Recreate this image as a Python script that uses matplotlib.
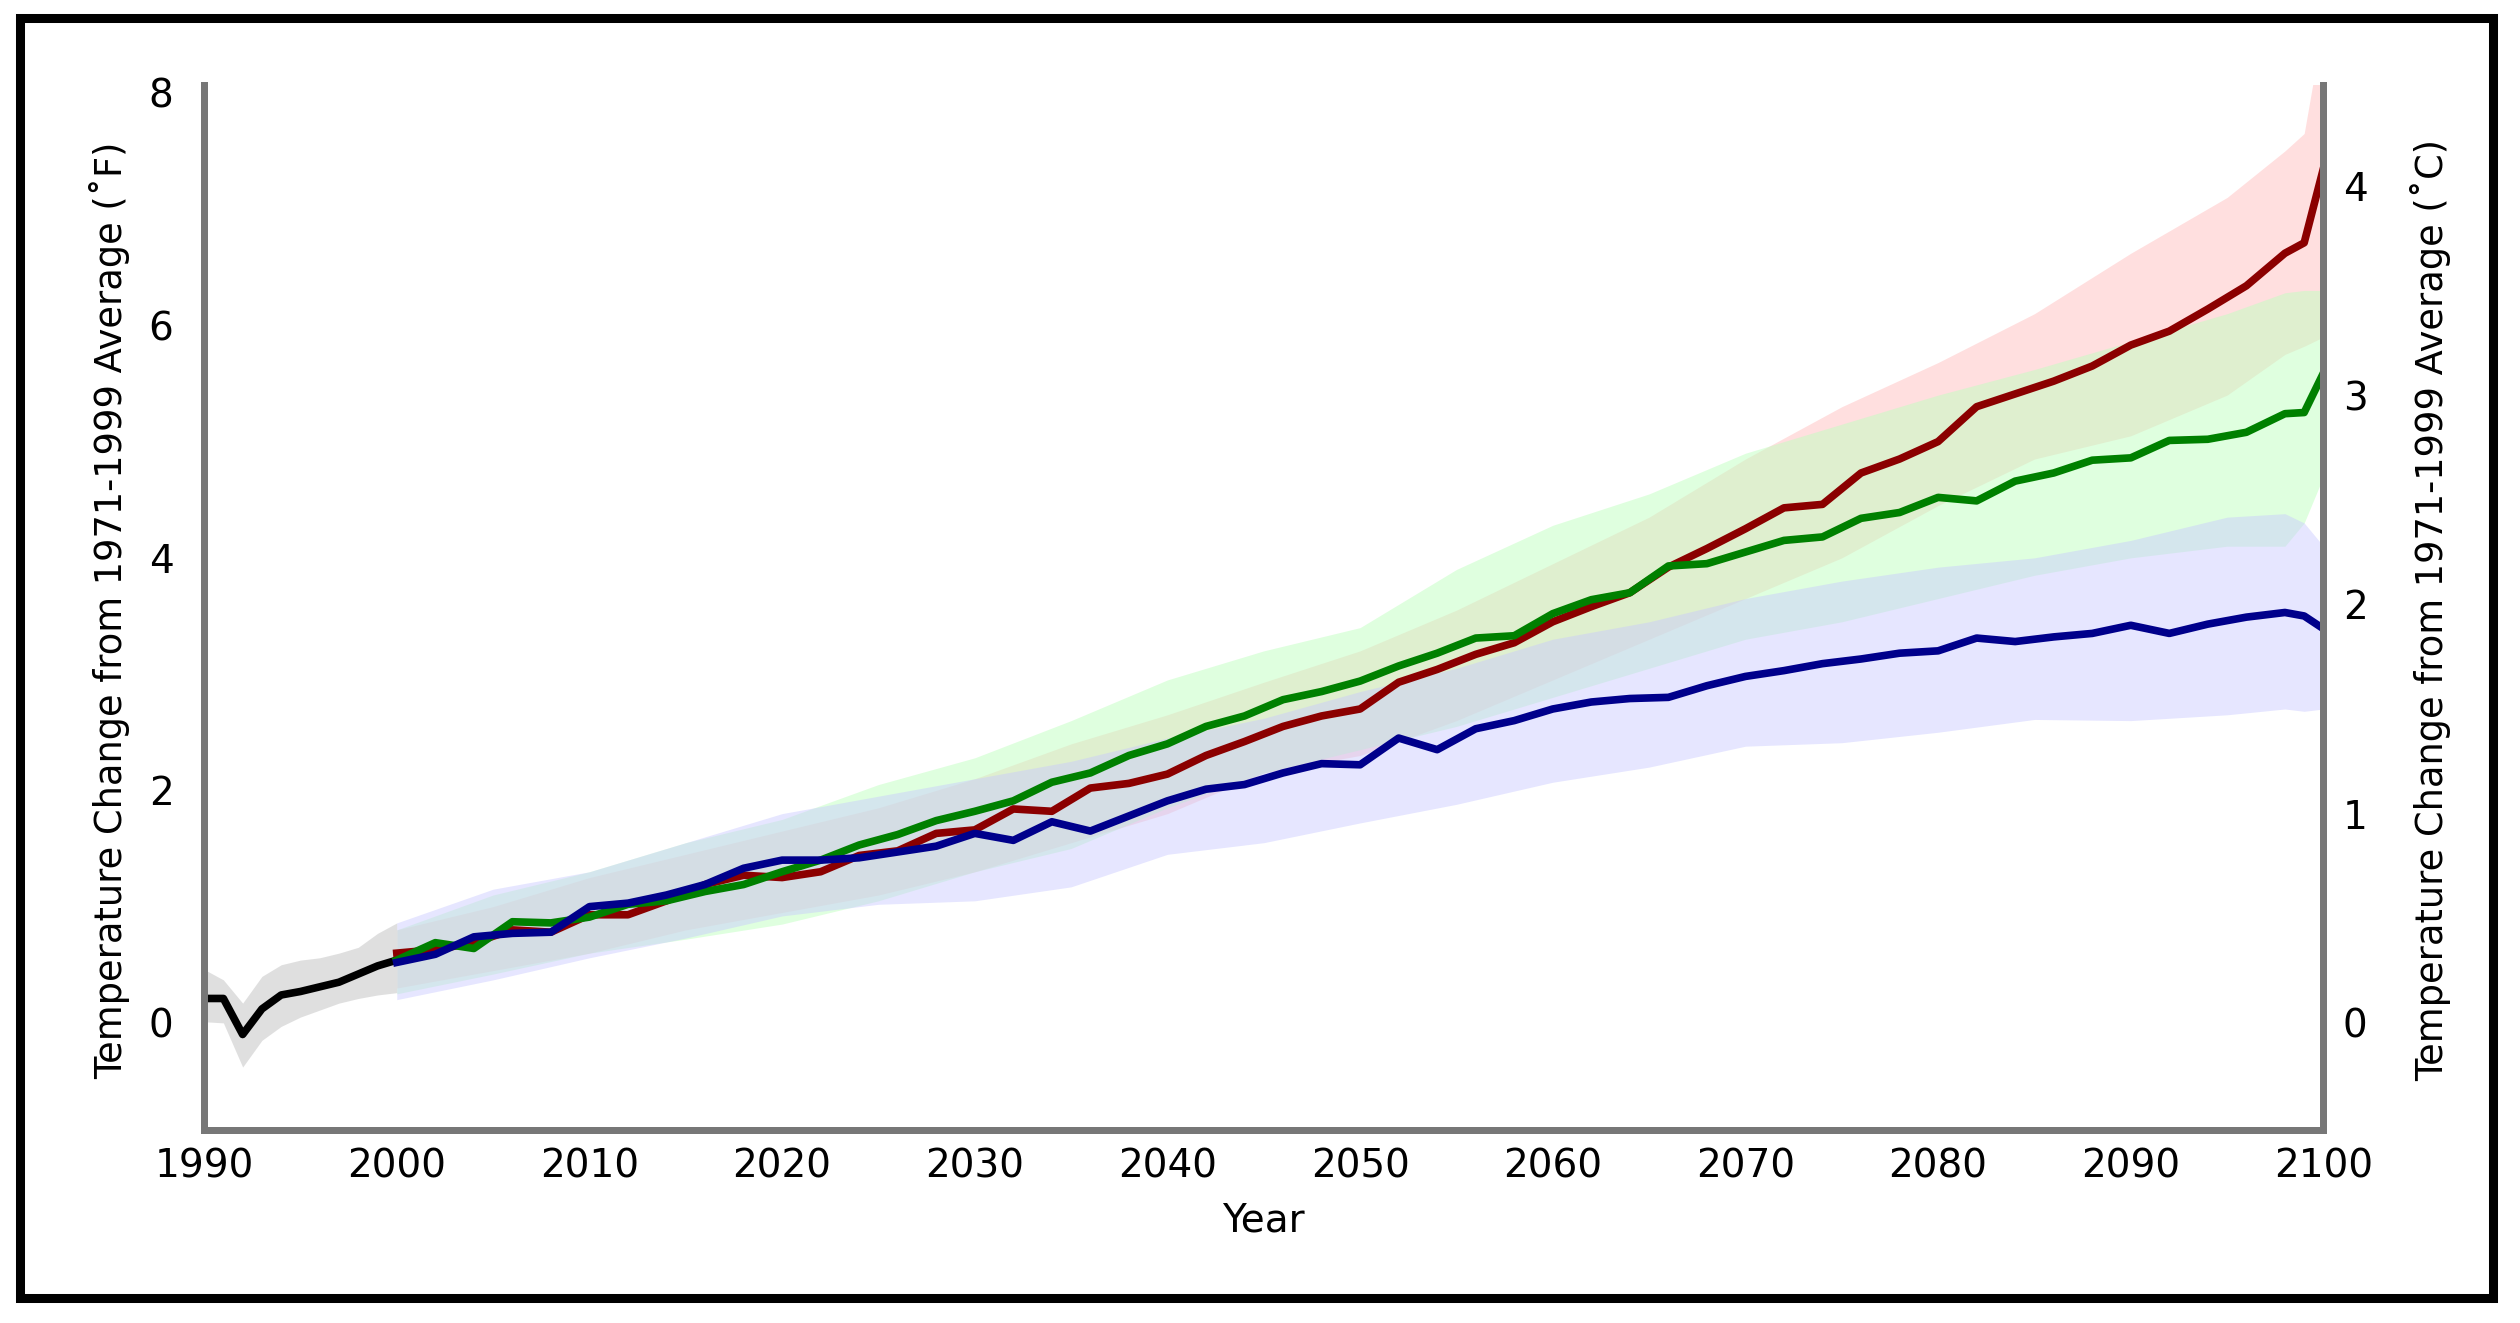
"""Projected temperature change, 1990-2100, three emission scenarios."""

import matplotlib
matplotlib.use('Agg')  # Non-interactive backend
import matplotlib.pyplot as plt
from matplotlib.patches import Rectangle

plt.rcParams['font.family'] = ['DejaVu Sans Condensed', 'DejaVu Sans']

# Observed record (deg F)
HIST_YEARS = list(range(1990, 2001))
HIST_MEAN = [0.21, 0.21, -0.10, 0.12, 0.24, 0.27, 0.31, 0.35, 0.42, 0.49, 0.54]
HIST_LOW = [0.01, 0.00, -0.38, -0.15, -0.03, 0.05, 0.11, 0.17, 0.21, 0.24, 0.26]
HIST_HIGH = [0.46, 0.37, 0.17, 0.40, 0.50, 0.54, 0.56, 0.60, 0.65, 0.77, 0.86]

# Scenario means (deg F)
SCEN_YEARS = list(range(2000, 2099, 2)) + [2099, 2100]
RED_MEAN = [0.60, 0.63, 0.69, 0.80, 0.78, 0.93, 0.93, 1.05, 1.19, 1.27,
            1.25, 1.30, 1.44, 1.48, 1.63, 1.66, 1.84, 1.82, 2.02, 2.06,
            2.14, 2.30, 2.42, 2.55, 2.64, 2.70, 2.93, 3.04, 3.17, 3.27,
            3.45, 3.58, 3.70, 3.92, 4.08, 4.25, 4.43, 4.46, 4.73, 4.85,
            5.00, 5.30, 5.41, 5.52, 5.65, 5.83, 5.95, 6.14, 6.34, 6.62,
            6.71, 7.35]
GREEN_MEAN = [0.54, 0.69, 0.64, 0.87, 0.86, 0.91, 1.02, 1.05, 1.13, 1.19,
              1.30, 1.40, 1.53, 1.62, 1.74, 1.82, 1.91, 2.07, 2.15, 2.30,
              2.40, 2.55, 2.64, 2.78, 2.85, 2.94, 3.07, 3.18, 3.31, 3.33,
              3.52, 3.64, 3.70, 3.93, 3.95, 4.05, 4.15, 4.18, 4.34, 4.39,
              4.52, 4.49, 4.66, 4.73, 4.84, 4.86, 5.01, 5.02, 5.08, 5.24,
              5.25, 5.59]
BLUE_MEAN = [0.52, 0.59, 0.74, 0.77, 0.78, 1.00, 1.03, 1.10, 1.19, 1.33,
             1.40, 1.40, 1.42, 1.47, 1.52, 1.63, 1.57, 1.73, 1.65, 1.78,
             1.91, 2.01, 2.05, 2.15, 2.23, 2.22, 2.45, 2.35, 2.53, 2.60,
             2.70, 2.76, 2.79, 2.80, 2.90, 2.98, 3.03, 3.09, 3.13, 3.18,
             3.20, 3.31, 3.28, 3.32, 3.35, 3.42, 3.35, 3.43, 3.49, 3.53,
             3.50, 3.39]

# Scenario ranges (deg F)
BAND_YEARS = list(range(2000, 2096, 5)) + [2098, 2099, 2100]
RED_LOW = [0.30, 0.45, 0.60, 0.80, 0.95, 1.10, 1.30, 1.55, 1.80, 2.15, 2.30, 2.60,
           2.95, 3.30, 3.65, 4.00, 4.45, 4.85, 5.05, 5.40, 5.75, 5.82, 5.90]
RED_HIGH = [0.80, 1.00, 1.25, 1.45, 1.65, 1.85, 2.10, 2.40, 2.65, 2.93, 3.20, 3.55,
            3.95, 4.35, 4.85, 5.30, 5.68, 6.10, 6.62, 7.10, 7.50, 7.65, 8.60]
GREEN_LOW = [0.25, 0.42, 0.60, 0.72, 0.85, 1.05, 1.30, 1.50, 1.85, 2.15, 2.35, 2.55,
             2.80, 3.05, 3.30, 3.45, 3.65, 3.85, 4.00, 4.10, 4.10, 4.30, 4.70]
GREEN_HIGH = [0.80, 1.10, 1.30, 1.55, 1.75, 2.05, 2.28, 2.60, 2.95, 3.20, 3.40, 3.90,
              4.28, 4.55, 4.90, 5.15, 5.40, 5.62, 5.86, 6.10, 6.28, 6.30, 6.30]
BLUE_LOW = [0.20, 0.37, 0.56, 0.73, 0.92, 1.02, 1.05, 1.17, 1.45, 1.55, 1.72, 1.88,
            2.07, 2.20, 2.38, 2.41, 2.50, 2.61, 2.60, 2.65, 2.70, 2.68, 2.70]
BLUE_HIGH = [0.86, 1.15, 1.30, 1.55, 1.80, 1.95, 2.10, 2.25, 2.45, 2.62, 2.85, 3.05,
             3.30, 3.45, 3.65, 3.80, 3.92, 4.00, 4.15, 4.35, 4.38, 4.30, 4.10]

X_TICKS = list(range(1990, 2101, 10))
F_TICKS = [0, 2, 4, 6, 8]
C_TICKS = [0, 1, 2, 3, 4]

SPINE = '#777777'
FONT = 28
LABEL_FONT = 26.5
LW = 5.5

fig = plt.figure(figsize=(25.2, 13.23), dpi=100)
ax = fig.add_axes([0.081, 0.146, 0.841, 0.790])

# Uncertainty bands
ax.fill_between(HIST_YEARS, HIST_LOW, HIST_HIGH, color='#c0c0c0', alpha=0.5, lw=0)
ax.fill_between(BAND_YEARS, RED_LOW, RED_HIGH, color='#ffc0c0', alpha=0.5, lw=0)
ax.fill_between(BAND_YEARS, GREEN_LOW, GREEN_HIGH, color='#c0ffc0', alpha=0.5, lw=0)
ax.fill_between(BAND_YEARS, BLUE_LOW, BLUE_HIGH, color='#c8c8ff', alpha=0.45, lw=0)

# Means
ax.plot(HIST_YEARS, HIST_MEAN, color='black', lw=LW)
ax.plot(SCEN_YEARS, RED_MEAN, color='#8b0000', lw=LW)
ax.plot(SCEN_YEARS, GREEN_MEAN, color='#008000', lw=LW)
ax.plot(SCEN_YEARS, BLUE_MEAN, color='#00008b', lw=LW)

ax.set_xlim(1990, 2100)
ax.set_ylim(-0.92, 8.07)
ax.set_xticks(X_TICKS)
ax.set_yticks(F_TICKS)
ax.tick_params(axis='x', length=0, pad=13, labelsize=FONT)
ax.tick_params(axis='y', length=0, pad=22, labelsize=FONT)

ax2 = ax.twinx()
ax2.set_ylim(-0.92 / 1.8, 8.07 / 1.8)
ax2.set_yticks(C_TICKS)
ax2.tick_params(axis='y', length=0, pad=14, labelsize=FONT)

for a in (ax, ax2):
    a.spines['top'].set_visible(False)
    for side in ('left', 'right', 'bottom'):
        a.spines[side].set_color(SPINE)
        a.spines[side].set_linewidth(5)

fig.text(110 / 2520, 1 - 610 / 1323, 'Temperature Change from 1971-1999 Average (˚F)',
         rotation=90, ha='center', va='center', fontsize=LABEL_FONT)
fig.text(2431 / 2520, 1 - 610 / 1323, 'Temperature Change from 1971-1999 Average (˚C)',
         rotation=90, ha='center', va='center', fontsize=LABEL_FONT)
fig.text(1263 / 2520, 1 - 1221 / 1323, 'Year', ha='center', va='center', fontsize=FONT)

# Outer frame
fig.patches.append(Rectangle((20 / 2520, 1 - 1298 / 1323), 2473 / 2520, 1280 / 1323,
                             transform=fig.transFigure, fill=False,
                             edgecolor='black', linewidth=6.5))

plt.savefig('out.png', dpi=100)
plt.close()
